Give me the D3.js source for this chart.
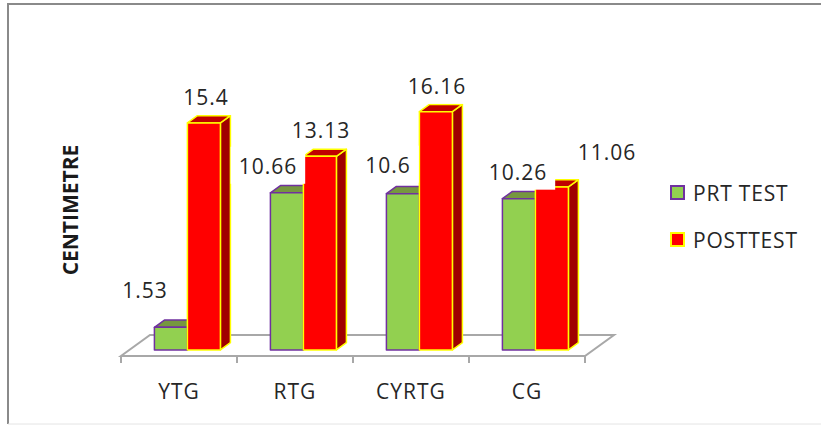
<!DOCTYPE html>
<html>
<head>
<meta charset="utf-8">
<script src="https://d3js.org/d3.v7.min.js"></script>
<style>
  html, body { margin: 0; padding: 0; background: #ffffff; }
  svg { display: block; font-family: "Open Sans", "Liberation Sans", sans-serif; }
</style>
</head>
<body>
<svg id="chart" width="821" height="425"></svg>
<script>
// ---- data ----
const categories = ["YTG", "RTG", "CYRTG", "CG"];
const seriesNames = ["PRT TEST", "POSTTEST"];
const prtTest = [1.53, 10.66, 10.6, 10.26];
const postTest = [15.4, 13.13, 16.16, 11.06];
const axisTitle = "CENTIMETRE";

// ---- layout ----
const W = 821, H = 425;
const floorFrontY = 356;        // front edge of the 3D floor
const DX = 29, DY = 21;         // projection of full floor depth
const barFront = 0.29, barBack = 0.635;   // bar depth span within floor
const pxPerUnit = 14.74;

// label nudges (cap-centre relative to bar front-top centre)
const prtNudge  = [[-26, -37], [-19, -26], [-15, -28], [-1, -26]];
const postNudge = [[2, -25], [1, -26], [1, -25], [55, -34]];

const styles = [
  { front: "#92D050", top: "#76973F", side: "#6B8F36", stroke: "#7030A0" },
  { front: "#FF0000", top: "#C00000", side: "#A00000", stroke: "#FFFF00" }
];

const svg = d3.select("#chart");

// outer frame
svg.append("line").attr("x1", 8).attr("y1", 4).attr("x2", W + 5).attr("y2", 4)
  .attr("stroke", "#8a8a8a").attr("stroke-width", 2);
svg.append("line").attr("x1", 8).attr("y1", 3).attr("x2", 8).attr("y2", 424)
  .attr("stroke", "#8a8a8a").attr("stroke-width", 2);
svg.append("line").attr("x1", 8).attr("y1", 424).attr("x2", W + 5).attr("y2", 424)
  .attr("stroke", "#e4e4e4").attr("stroke-width", 1);

// scales
const x = d3.scaleBand().domain(categories).range([121, 585]).paddingInner(0).paddingOuter(0);
const xs = d3.scaleBand().domain(seriesNames).range([25, 91]);
const y = d3.scaleLinear().domain([0, 18]).range([floorFrontY, floorFrontY - 18 * pxPerUnit]);

const proj = (px, py, d) => [px + d * DX, py - d * DY];
const poly = pts => "M" + pts.map(p => p.join(",")).join("L") + "Z";

// floor
const fx0 = x.range()[0], fx1 = x.range()[1];
svg.append("path")
  .attr("d", poly([proj(fx0, y(0), 0), proj(fx1, y(0), 0), proj(fx1, y(0), 1), proj(fx0, y(0), 1)]))
  .attr("fill", "#ffffff").attr("stroke", "#a8a8a8").attr("stroke-width", 2)
  .attr("stroke-linejoin", "miter");

// category ticks along the floor front edge
const tickXs = categories.map(c => x(c)).concat([fx1]);
svg.selectAll("line.tick").data(tickXs).join("line")
  .attr("class", "tick")
  .attr("x1", d => d).attr("x2", d => d)
  .attr("y1", y(0)).attr("y2", y(0) + 7)
  .attr("stroke", "#a8a8a8").attr("stroke-width", 2);

// category labels
svg.selectAll("text.cat").data(categories).join("text")
  .attr("class", "cat")
  .attr("x", d => x(d) + x.bandwidth() / 2)
  .attr("y", 399)
  .attr("text-anchor", "middle")
  .attr("font-size", 21)
  .attr("letter-spacing", 1)
  .attr("fill", "#262626")
  .text(d => d);

// bars
const allSeries = [prtTest, postTest];
const barsG = svg.append("g");
const barGeom = [];
categories.forEach((cat, ci) => {
  allSeries.forEach((vals, si) => {
    const v = vals[ci];
    const xl = x(cat) + xs(seriesNames[si]);
    const xr = xl + xs.bandwidth();
    const yt = y(v), yb = y(0);
    const st = styles[si];
    const g = barsG.append("g");
    // side face
    g.append("path")
      .attr("d", poly([proj(xr, yb, barFront), proj(xr, yb, barBack), proj(xr, yt, barBack), proj(xr, yt, barFront)]))
      .attr("fill", st.side).attr("stroke", st.stroke).attr("stroke-width", 1.5).attr("stroke-linejoin", "round");
    // top face
    g.append("path")
      .attr("d", poly([proj(xl, yt, barFront), proj(xr, yt, barFront), proj(xr, yt, barBack), proj(xl, yt, barBack)]))
      .attr("fill", st.top).attr("stroke", st.stroke).attr("stroke-width", 1.5).attr("stroke-linejoin", "round");
    // front face
    g.append("path")
      .attr("d", poly([proj(xl, yb, barFront), proj(xr, yb, barFront), proj(xr, yt, barFront), proj(xl, yt, barFront)]))
      .attr("fill", st.front).attr("stroke", st.stroke).attr("stroke-width", 1.5).attr("stroke-linejoin", "round");
    const topC = proj((xl + xr) / 2, yt, barFront);
    const nudge = (si === 0 ? prtNudge : postNudge)[ci];
    barGeom.push({ v, cx: topC[0] + nudge[0], cy: topC[1] + nudge[1] });
  });
});

// data labels with white backing boxes
const labelsG = svg.append("g");
barGeom.forEach(b => {
  const g = labelsG.append("g");
  const rect = g.append("rect").attr("fill", "#ffffff");
  const t = g.append("text")
    .attr("x", b.cx).attr("y", b.cy + 7.5)
    .attr("text-anchor", "middle")
    .attr("font-size", 21)
    .attr("letter-spacing", 1)
    .attr("fill", "#262626")
    .text(String(b.v));
  const bb = t.node().getBBox();
  rect.attr("x", bb.x - 8).attr("y", b.cy - 20)
    .attr("width", bb.width + 16).attr("height", 37);
});

// axis title
svg.append("text")
  .attr("transform", "translate(78,210) rotate(-90)")
  .attr("text-anchor", "middle")
  .attr("font-size", 21)
  .attr("font-weight", "bold")
  .attr("fill", "#1a1a1a")
  .text(axisTitle);

// legend
const legend = svg.append("g");
seriesNames.forEach((name, i) => {
  const ly = 193 + i * 47;
  legend.append("rect")
    .attr("x", 671).attr("y", ly - 7).attr("width", 13).attr("height", 13)
    .attr("fill", styles[i].front).attr("stroke", styles[i].stroke).attr("stroke-width", 2);
  legend.append("text")
    .attr("x", 693).attr("y", ly + 7.5)
    .attr("font-size", 21)
    .attr("letter-spacing", 0.8)
    .attr("fill", "#262626")
    .text(name);
});
</script>
</body>
</html>
